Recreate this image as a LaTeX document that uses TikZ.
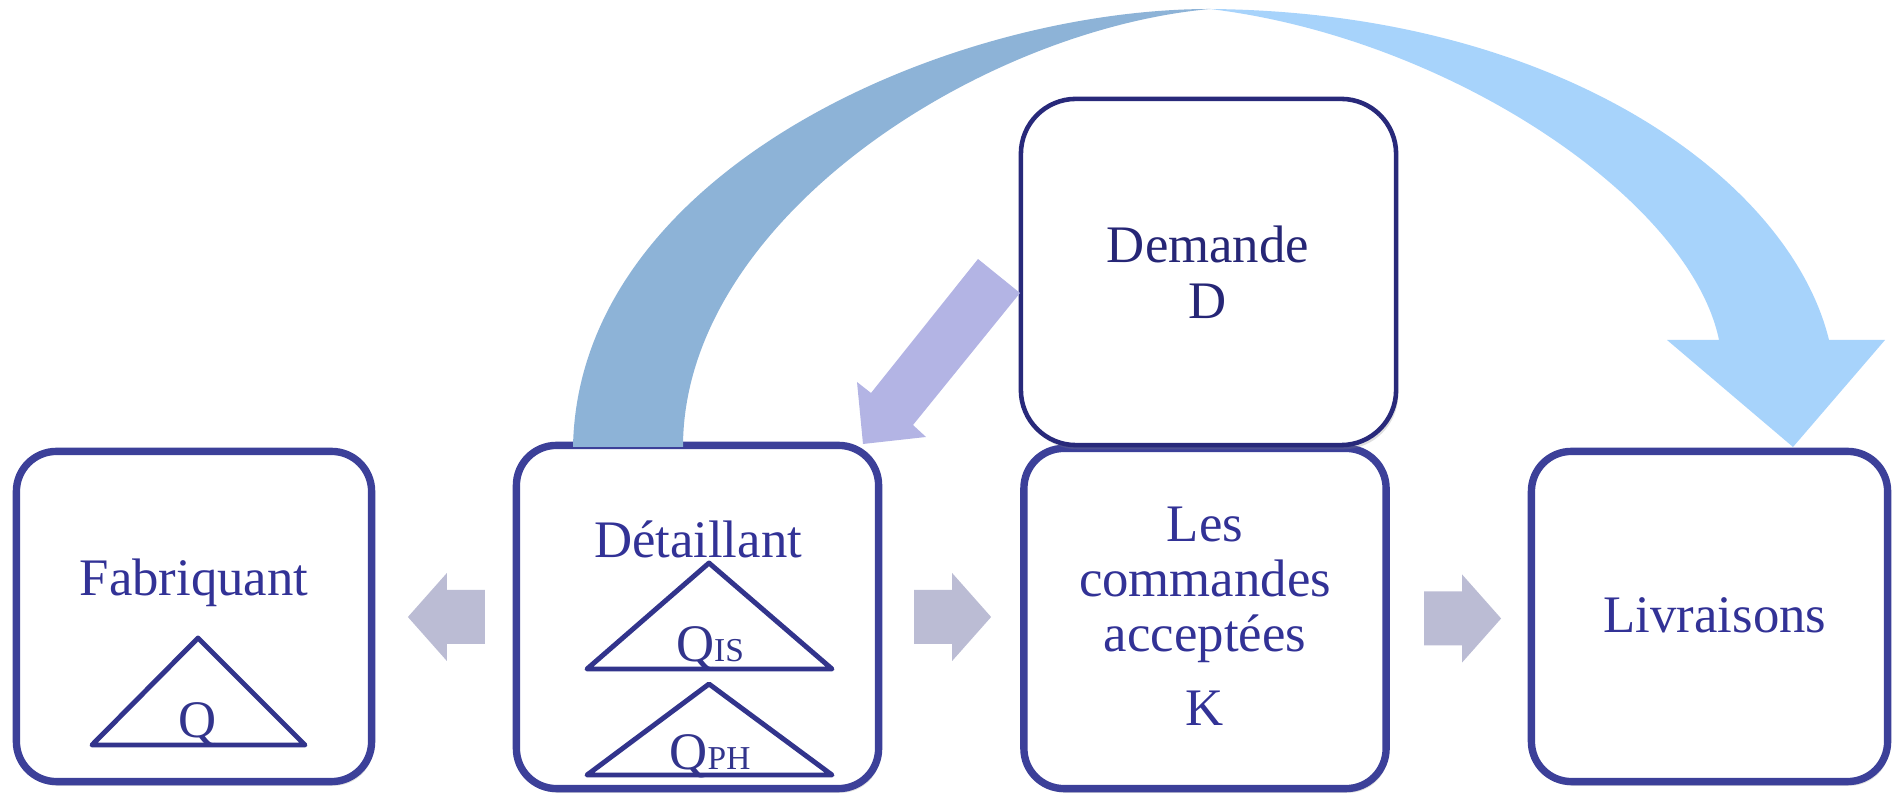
\documentclass[tikz,border=0pt]{standalone}
\usepackage{fontspec}
\setmainfont{Liberation Serif}
\usetikzlibrary{shadows,calc}
\definecolor{boxblue}{RGB}{60,64,153}
\definecolor{txtblue}{RGB}{50,50,150}
\definecolor{demtxt}{RGB}{38,38,118}
\definecolor{tricol}{RGB}{50,52,140}
\definecolor{greyarr}{RGB}{187,188,212}
\definecolor{purparr}{RGB}{179,180,228}
\definecolor{arcdark}{RGB}{141,179,215}
\definecolor{arclight}{RGB}{167,211,251}
\tikzset{
  box/.style={draw=boxblue, line width=2.1pt, rounded corners=0.4cm, fill=white,
    inner sep=0pt, outer sep=0pt,
    drop shadow={shadow xshift=0.6pt, shadow yshift=-1.2pt, opacity=0.25}},
  dembox/.style={box, draw=demtxt!90!boxblue, line width=1.3pt, rounded corners=0.55cm},
  lbl/.style={text=txtblue, font=\fontsize{15}{15.5}\selectfont, inner sep=0pt, outer sep=0pt},
  tri/.style={draw=tricol, line width=1.4pt, line join=round},
  blkR/.pic={\fill[greyarr] (0,-27) -- (38,-27) -- (38,-44) -- (77,0) -- (38,44) -- (38,27) -- (0,27) -- cycle;},
  blkL/.pic={\fill[greyarr] (0,-27) -- (-38,-27) -- (-38,-44) -- (-77,0) -- (-38,44) -- (-38,27) -- (0,27) -- cycle;}
}
\begin{document}
\begin{tikzpicture}[x=0.01cm,y=-0.01cm]
\useasboundingbox (0,0) rectangle (1894,795);
% boxes
\node[box, minimum width=3.55cm, minimum height=3.30cm] (fab) at (194,616.5) {};
\node[box, minimum width=3.62cm, minimum height=3.43cm] (det) at (697.5,617) {};
\node[box, minimum width=3.62cm, minimum height=3.40cm] (com) at (1205,618.5) {};
\node[box, minimum width=3.56cm, minimum height=3.30cm] (liv) at (1709.5,616.5) {};
\node[dembox, minimum width=3.75cm, minimum height=3.46cm] (dem) at (1208.5,272) {};
% triangles
\draw[tri] (198,638) -- (305,745) -- (92,745) -- cycle;
\draw[tri] (709,563) -- (832,669) -- (587,669) -- cycle;
\draw[tri] (709,684) -- (832,775) -- (587,775) -- cycle;
% labels
\node[lbl, anchor=base] (tfab) at (194,596) {Fabriquant};
\node[lbl, anchor=base, text=tricol] (tq) at (198,738) {Q};
\node[lbl, anchor=base] (tdet) at (698,558) {Détaillant};
\node[lbl, anchor=base, text=tricol] (tqis) at (710,662) {Q{\fontsize{9.5}{10}\selectfont IS}};
\node[lbl, anchor=base, text=tricol] (tqph) at (710,770) {Q{\fontsize{9.5}{10}\selectfont PH}};
\node[lbl, anchor=base] (tcom) at (1205,542) {\begin{tabular}[t]{@{}c@{}}Les\\commandes\\acceptées\\[5.7pt]K\end{tabular}};
\node[lbl, anchor=base] (tliv) at (1715,633) {Livraisons};
\node[lbl, anchor=base, text=demtxt] (tdem) at (1208,263) {\begin{tabular}[t]{@{}c@{}}Demande\\[0.4pt]D\end{tabular}};
% grey block arrows
\pic at ($(det.west)+(-31.5,0)$) {blkL};
\pic at ($(det.east)+(35.5,0)$) {blkR};
\pic at ($(com.east)+(38,0)$) {blkR};
% purple arrow from Demande to Detaillant
\fill[purparr] (978,259) -- (871,393) -- (857,382) -- (863,444) -- (926,437) -- (913,425) -- (1020,293) -- cycle;
% big arc arrow
\fill[arcdark] (573,447) .. controls (578,170) and (950,9) .. (1210,9)
  .. controls (980,30) and (683,220) .. (683,447) -- cycle;
\fill[arclight] (1210,9) .. controls (1560,12) and (1790,180) .. (1829,340)
  -- (1885,340) -- (1793,447) -- (1667,340) -- (1719,340)
  .. controls (1690,200) and (1450,38) .. (1210,9) -- cycle;
\end{tikzpicture}
\end{document}
